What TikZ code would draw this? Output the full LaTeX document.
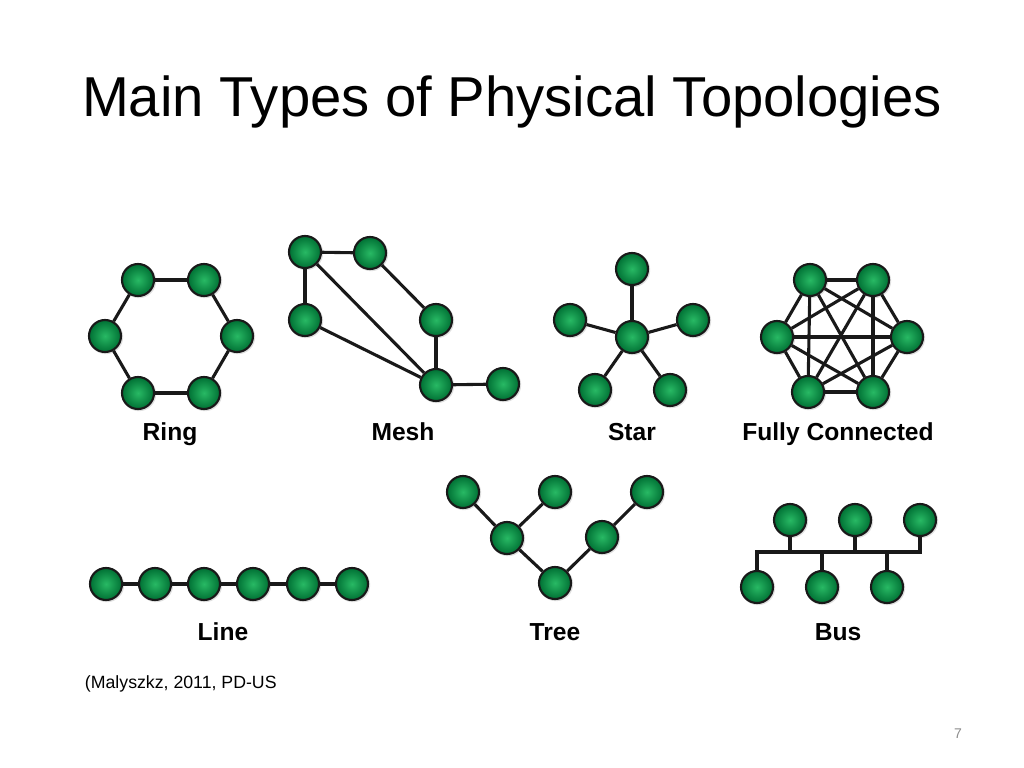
\documentclass[tikz,border=0pt]{standalone}
\usepackage{fontspec}
\setmainfont{Liberation Sans}
\usetikzlibrary{shadows}

\definecolor{ballhi}{RGB}{40,185,100}
\definecolor{balllo}{RGB}{0,112,52}
\definecolor{pagegray}{RGB}{140,140,140}

\begin{document}
\begin{tikzpicture}[x=0.025cm, y=-0.025cm,
    host/.style={circle, draw=black!90, line width=1.5pt, minimum size=0.8cm, inner sep=0pt,
      inner color=ballhi, outer color=balllo,
      drop shadow={shadow xshift=0.6pt, shadow yshift=-0.6pt, opacity=0.25, shadow scale=1.08}},
    link/.style={line width=2.2pt, black!90},
    lbl/.style={anchor=base, font=\bfseries\fontsize{17.5}{20}\selectfont}]
    %%%%% START %%%%%

    \useasboundingbox (0,0) rectangle (1024,768);

    \node[anchor=base, font=\fontsize{40}{44}\selectfont] (title) at (512,117) {Main Types of Physical Topologies};

    % ring
    \node[host] (r1) at (138,280) {};
    \node[host] (r2) at (204,280) {};
    \node[host] (r3) at (237,336) {};
    \node[host] (r4) at (204,393) {};
    \node[host] (r5) at (138,393) {};
    \node[host] (r6) at (105,336) {};
    \foreach \a/\b in {r1/r2, r2/r3, r3/r4, r4/r5, r5/r6, r6/r1}
      \draw[link] (\a) -- (\b);
    \node[lbl] (ringlbl) at (170,440) {Ring};

    % mesh
    \node[host] (m1) at (305,252) {};
    \node[host] (m2) at (370,253) {};
    \node[host] (m3) at (305,320) {};
    \node[host] (m4) at (436,320) {};
    \node[host] (m5) at (436,385) {};
    \node[host] (m6) at (503,384) {};
    \foreach \a/\b in {m1/m2, m1/m3, m1/m5, m3/m5, m2/m4, m4/m5, m5/m6}
      \draw[link] (\a) -- (\b);
    \node[lbl] (meshlbl) at (403,440) {Mesh};

    % star
    \node[host] (s0) at (632,337) {};
    \node[host] (s1) at (632,269) {};
    \node[host] (s2) at (693,320) {};
    \node[host] (s3) at (670,390) {};
    \node[host] (s4) at (595,390) {};
    \node[host] (s5) at (570,320) {};
    \foreach \b in {s1,s2,s3,s4,s5}
      \draw[link] (s0) -- (\b);
    \node[lbl] (starlbl) at (632,440) {Star};

    % fully connected
    \node[host] (f1) at (810,280) {};
    \node[host] (f2) at (873,280) {};
    \node[host] (f3) at (907,337) {};
    \node[host] (f4) at (873,392) {};
    \node[host] (f5) at (808,392) {};
    \node[host] (f6) at (777,337) {};
    \foreach \i in {1,...,5}{
      \pgfmathtruncatemacro{\j}{\i+1}
      \foreach \k in {\j,...,6}
        \draw[link] (f\i) -- (f\k);
    }
    \node[lbl] (fulllbl) at (838,440) {Fully Connected};

    % line
    \foreach \x [count=\n] in {106,155,204,253,303,352}
      \node[host] (l\n) at (\x,584) {};
    \foreach \a/\b in {1/2, 2/3, 3/4, 4/5, 5/6}
      \draw[link] (l\a) -- (l\b);
    \node[lbl] (linelbl) at (223,640) {Line};

    % tree
    \node[host] (t1) at (463,492) {};
    \node[host] (t2) at (555,492) {};
    \node[host] (t3) at (647,492) {};
    \node[host] (t4) at (507,538) {};
    \node[host] (t5) at (602,537) {};
    \node[host] (t6) at (555,583) {};
    \foreach \a/\b in {t1/t4, t2/t4, t4/t6, t6/t5, t5/t3}
      \draw[link] (\a) -- (\b);
    \node[lbl] (treelbl) at (555,640) {Tree};

    % bus
    \node[host] (bt1) at (790,520) {};
    \node[host] (bt2) at (855,520) {};
    \node[host] (bt3) at (920,520) {};
    \node[host] (bb1) at (757,587) {};
    \node[host] (bb2) at (822,587) {};
    \node[host] (bb3) at (887,587) {};
    \coordinate (busL) at (757,552);
    \coordinate (busR) at (920,552);
    \draw[link] (bb1) -- (busL) -- (busR) -- (bt3);
    \draw[link] (bt1) -- (bt1 |- busL);
    \draw[link] (bt2) -- (bt2 |- busL);
    \draw[link] (bb2) -- (bb2 |- busL);
    \draw[link] (bb3) -- (bb3 |- busL);
    \node[lbl] (buslbl) at (838,640) {Bus};

    \node[anchor=base west, font=\fontsize{12.6}{15}\selectfont] (source) at (80,688) {(Malyszkz, 2011, PD-US};
    \node[anchor=base, text=pagegray, font=\fontsize{10}{12}\selectfont] (pageno) at (958,738) {7};

    %%%%% END %%%%%
\end{tikzpicture}
\end{document}
